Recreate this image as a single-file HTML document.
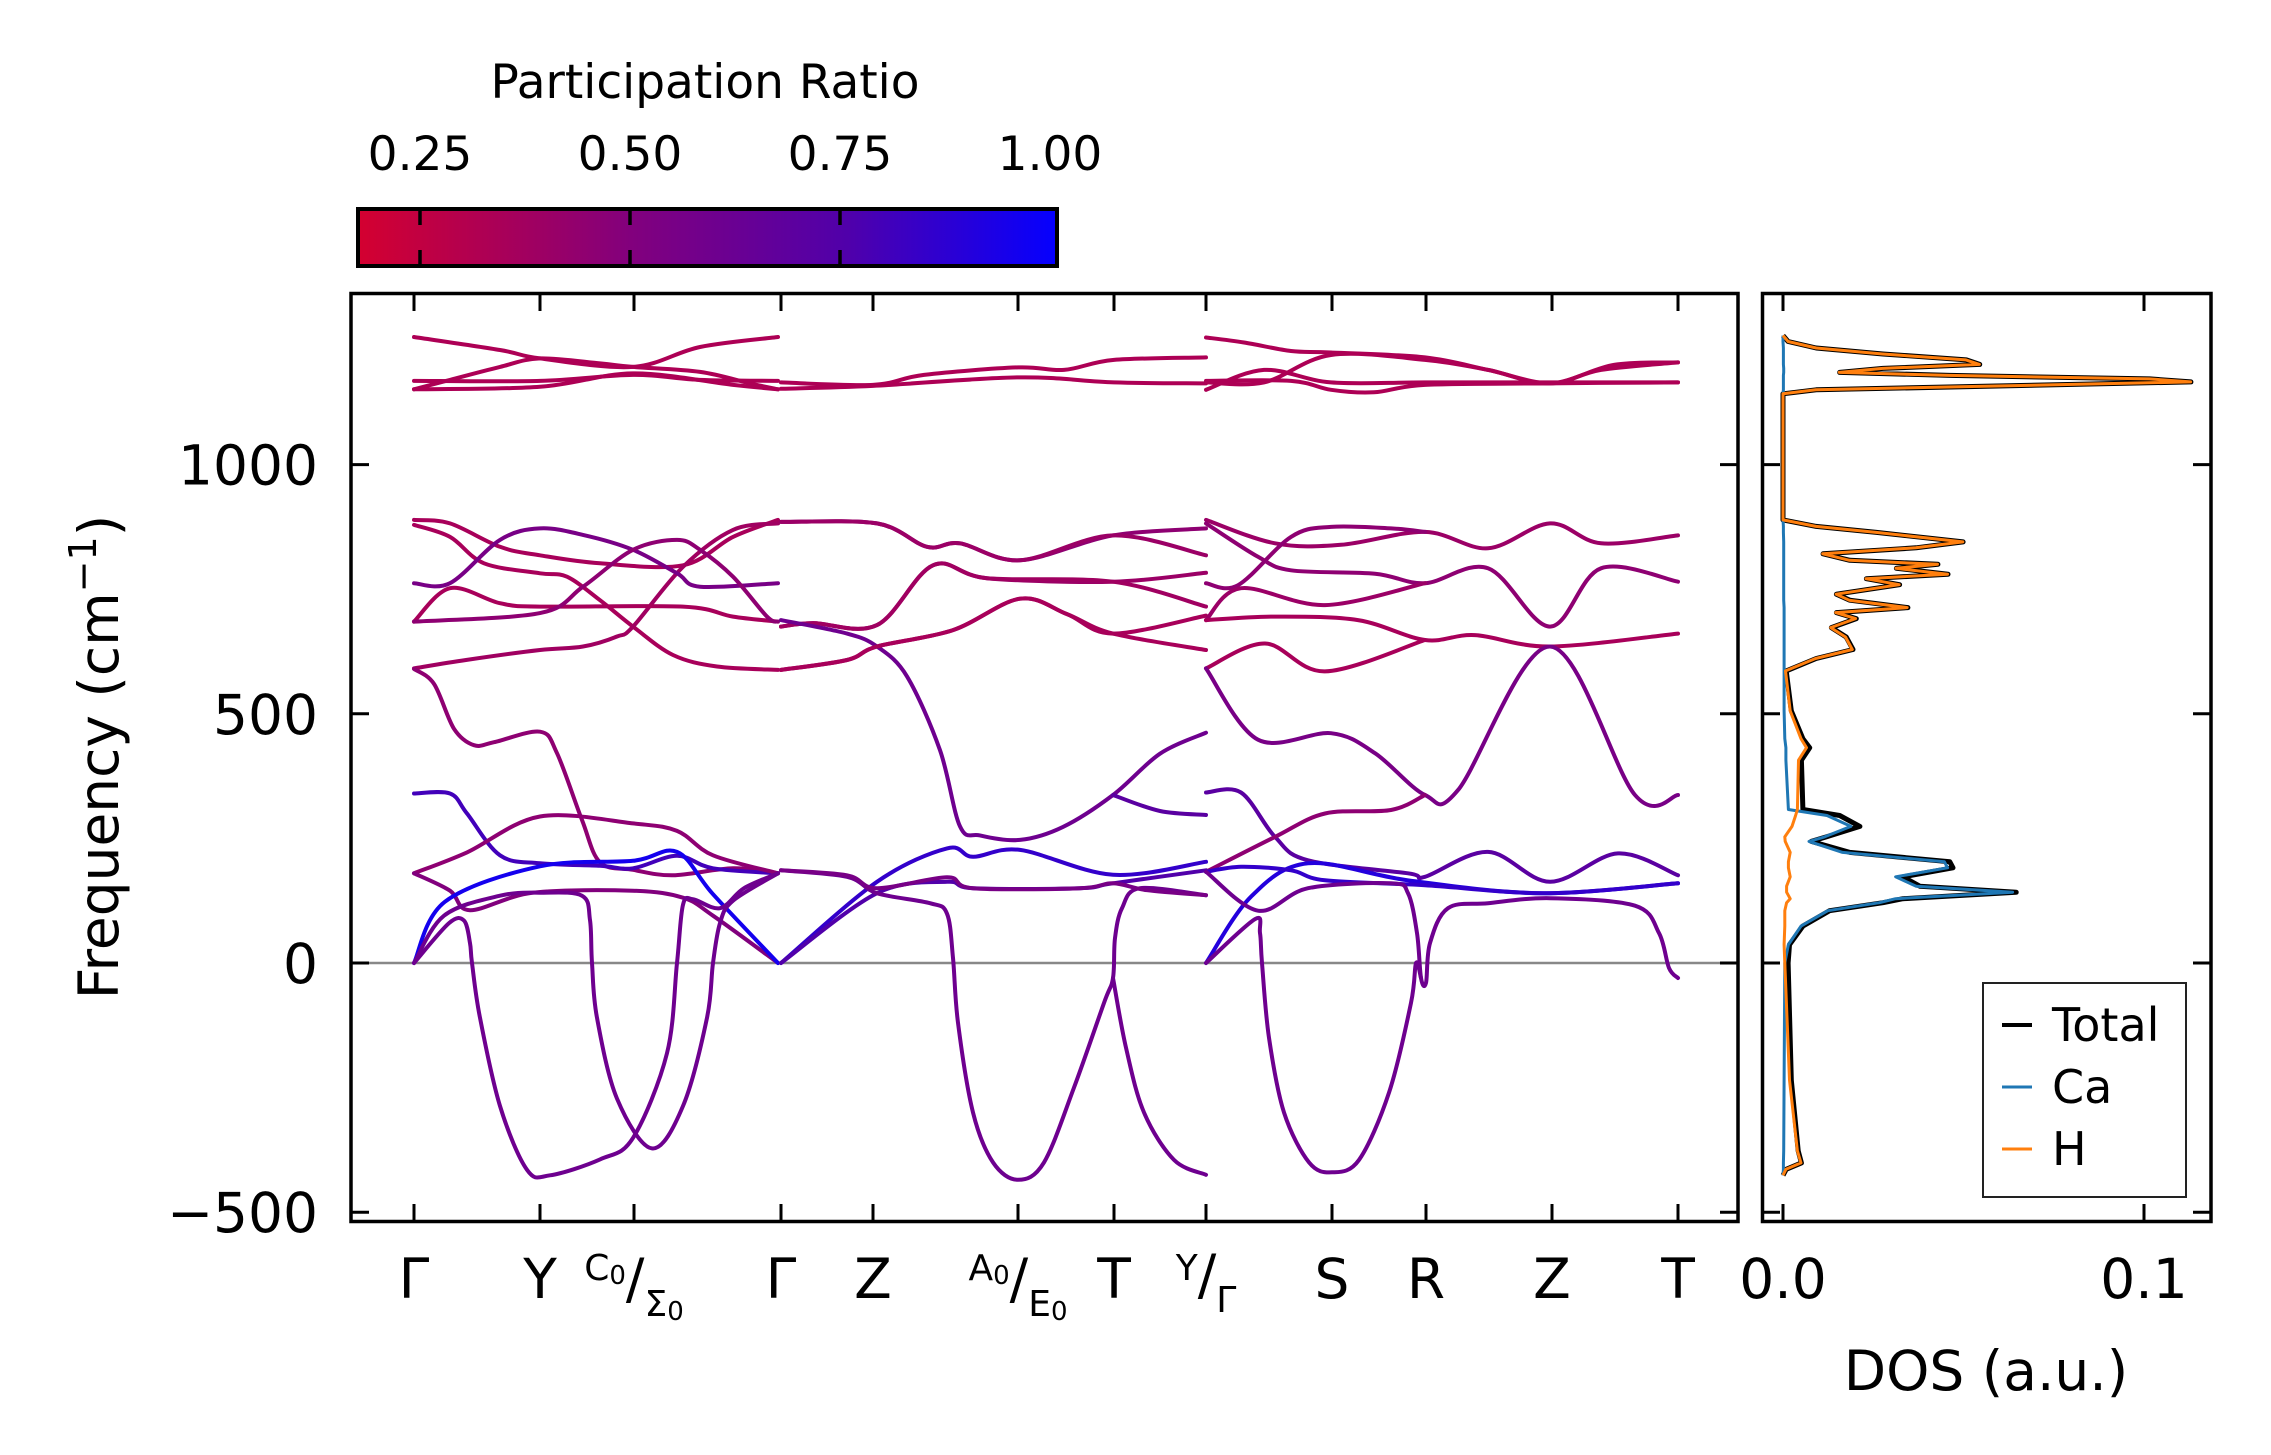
<!DOCTYPE html>
<html><head><meta charset="utf-8">
<style>
html,body{margin:0;padding:0;background:#fff;}
svg{display:block;font-family:"DejaVu Sans","Liberation Sans",sans-serif;}
</style></head>
<body>
<svg id="fig" width="2271" height="1455" viewBox="0 0 2271 1455" xmlns="http://www.w3.org/2000/svg">
  <defs>
    <linearGradient id="cmap" x1="0" x2="1" y1="0" y2="0">
      <stop offset="0" stop-color="rgb(212,0,48)"/>
      <stop offset="0.39" stop-color="rgb(130,0,125)"/>
      <stop offset="0.70" stop-color="rgb(80,0,170)"/>
      <stop offset="1" stop-color="rgb(5,0,255)"/>
    </linearGradient>
    <clipPath id="mainclip"><rect x="351" y="293" width="1387" height="929"/></clipPath>
    <clipPath id="dosclip"><rect x="1762" y="293" width="449" height="929"/></clipPath>
  </defs>
  <g id="colorbar">
    <text x="705" y="98" font-size="47" text-anchor="middle">Participation Ratio</text>
    <rect x="358" y="209" width="699" height="57" fill="url(#cmap)" stroke="#000" stroke-width="4"/>
    <g id="cbticks"></g>
  </g>
  <g id="main">
    <line x1="351" x2="1738" y1="963" y2="963" stroke="#888" stroke-width="2.5"/>
    <g id="bands" clip-path="url(#mainclip)"></g>
    <rect x="351" y="293.5" width="1387" height="928" fill="none" stroke="#000" stroke-width="3.5"/>
    <g id="mainticks"></g>
    <text transform="translate(118,757) rotate(-90)" font-size="55" text-anchor="middle">Frequency (cm<tspan font-size="38" dy="-22">−1</tspan><tspan dy="22">)</tspan></text>
  </g>
  <g id="dos">
    <g id="doslines" clip-path="url(#dosclip)"></g>
    <rect x="1762.5" y="293.5" width="448.5" height="928" fill="none" stroke="#000" stroke-width="3.5"/>
    <g id="dosticks"></g>
    <text x="1986" y="1390" font-size="55" text-anchor="middle">DOS (a.u.)</text>
    <g>
      <rect x="1983" y="983" width="203" height="214" fill="#fff" stroke="#222" stroke-width="2"/>
      <line x1="2002" x2="2032" y1="1025" y2="1025" stroke="#000" stroke-width="4"/>
      <text x="2052" y="1041" font-size="46">Total</text>
      <line x1="2002" x2="2032" y1="1087" y2="1087" stroke="#1f77b4" stroke-width="3"/>
      <text x="2052" y="1103" font-size="46">Ca</text>
      <line x1="2002" x2="2032" y1="1149" y2="1149" stroke="#ff7f0e" stroke-width="3"/>
      <text x="2052" y="1165" font-size="46">H</text>
    </g>
  </g>
</svg>
<script>
// ---------- data ----------
const kTicks = [0,126,220,367,459,604,700,792,918,1012,1138,1264];
const kLabels = ["Γ","Y","C0/Σ0","Γ","Z","A0/E0","T","Y/Γ","S","R","Z","T"];
const yTicks = [-500,0,500,1000];
const yTickLabels = ["−500","0","500","1000"];
const cbTicks = [0.25,0.5,0.75,1.0];
const cbTickLabels = ["0.25","0.50","0.75","1.00"];
const dosTicks = [0.0,0.1];
const dosTickLabels = ["0.0","0.1"];

// bands: [k, frequency cm^-1]
const bands = [
 [[0,1256],[86,1230],[126,1213],[219,1196],[286,1236],[364,1256]],
 [[0,1151],[36,1170],[86,1196],[126,1213],[186,1203],[219,1196],[286,1186],[336,1163],[364,1151]],
 [[0,1168],[126,1168],[219,1180],[286,1170],[364,1168]],
 [[0,1151],[126,1156],[219,1183],[319,1160],[364,1151]],
 [[0,889],[36,882],[86,835],[126,818],[186,802],[269,798],[319,855],[364,889]],
 [[0,879],[36,855],[70,802],[126,782],[153,775],[186,728],[219,675],[259,618],[303,595],[364,588]],
 [[0,591],[52,608],[126,628],[169,635],[203,655],[219,675],[269,795],[319,869],[364,882]],
 [[0,762],[36,762],[86,849],[126,872],[169,859],[219,829],[263,782],[286,755],[364,762]],
 [[0,685],[36,752],[86,722],[126,715],[269,715],[319,695],[364,685]],
 [[0,685],[126,702],[169,755],[219,829],[263,849],[286,829],[319,775],[353,695],[364,685]],
 [[0,590],[20,560],[40,470],[60,437],[80,443],[126,464],[143,421],[168,287],[186,202],[219,187],[259,176],[319,190],[364,180]],
 [[0,340],[36,340],[53,300],[86,216],[126,200],[186,195],[219,190],[263,215],[299,190],[364,180]],
 [[0,180],[53,222],[126,294],[219,280],[263,265],[299,216],[364,180]],
 [[0,180],[36,145],[56,106],[119,141],[219,145],[269,131],[299,95],[364,0]],
 [[0,0],[31,123],[126,194],[219,205],[263,223],[299,138],[364,0]],
 [[0,0],[35,80],[50,85],[56,40],[58,0],[66,-110],[86,-287],[113,-415],[136,-426],[186,-394],[219,-351],[253,-181],[263,0],[269,117],[279,128],[306,110],[330,150],[364,180]],
 [[0,0],[30,95],[86,135],[126,141],[168,135],[176,86],[178,0],[183,-110],[203,-272],[238,-372],[269,-287],[293,-110],[299,0],[306,80],[319,125],[364,180]],
 [[367,1165],[459,1160],[510,1180],[604,1195],[650,1190],[700,1210],[792,1215]],
 [[367,1152],[459,1158],[604,1175],[700,1165],[792,1163]],
 [[367,885],[463,882],[513,835],[546,842],[606,808],[699,858],[792,872]],
 [[367,885],[463,882],[513,835],[546,842],[606,808],[699,858],[792,818]],
 [[367,675],[399,682],[463,678],[519,798],[573,772],[699,765],[792,783]],
 [[367,675],[399,682],[463,678],[519,798],[573,772],[699,765],[792,715]],
 [[367,688],[433,661],[463,635],[493,575],[526,427],[546,274],[566,256],[606,247],[649,273],[699,337],[746,420],[792,462]],
 [[699,337],[746,305],[792,297]],
 [[367,588],[433,608],[463,635],[539,668],[606,731],[653,700],[699,661],[792,697]],
 [[367,588],[433,608],[463,635],[539,668],[606,731],[653,700],[699,661],[792,628]],
 [[367,0],[463,163],[533,230],[559,213],[606,227],[699,177],[792,203]],
 [[367,0],[463,140],[533,163],[559,150],[666,150],[699,160],[792,186]],
 [[367,186],[433,173],[463,140],[516,120],[533,99],[539,10],[544,-120],[559,-300],[579,-400],[604,-435],[630,-400],[660,-250],[690,-80],[699,-30],[701,50],[708,110],[726,150],[792,136]],
 [[367,186],[433,176],[463,150],[533,172],[559,150],[666,150],[699,160],[733,146],[792,136]],
 [[699,-30],[712,-170],[730,-300],[760,-395],[792,-425]],
 [[792,1255],[830,1245],[877,1228],[917,1225],[1011,1215],[1074,1190],[1136,1163],[1187,1190],[1264,1205]],
 [[792,1150],[850,1190],[917,1165],[1011,1165],[1136,1165],[1264,1165]],
 [[792,1168],[877,1168],[917,1150],[960,1145],[1011,1160],[1136,1163],[1264,1165]],
 [[792,1165],[850,1165],[917,1220],[1011,1210],[1074,1190],[1136,1163],[1200,1200],[1264,1205]],
 [[792,889],[861,842],[927,839],[1011,865],[1074,832],[1136,882],[1187,842],[1264,858]],
 [[792,882],[844,815],[877,788],[961,781],[1011,762],[1074,792],[1136,675],[1187,792],[1264,765]],
 [[792,762],[824,758],[877,855],[917,875],[977,872],[1011,865]],
 [[792,688],[827,752],[911,718],[1011,762]],
 [[792,688],[861,695],[944,688],[1011,648],[1061,658],[1136,635],[1264,661]],
 [[792,591],[851,641],[911,585],[1011,648]],
 [[792,591],[844,448],[917,461],[961,421],[1011,337],[1044,347],[1136,635],[1221,337],[1264,337]],
 [[792,342],[827,342],[861,253],[894,206],[994,180],[1011,173],[1074,223],[1136,163],[1204,220],[1264,176]],
 [[792,183],[861,253],[911,300],[977,307],[1011,337]],
 [[792,0],[837,133],[894,200],[994,166],[1127,140],[1264,160]],
 [[792,183],[827,193],[877,186],[911,166],[1011,156],[1136,140],[1264,160]],
 [[792,183],[844,105],[894,150],[977,160],[994,140],[1003,60],[1007,-30],[1012,-40],[1016,40],[1034,110],[1074,120],[1136,130],[1221,115],[1245,60],[1255,-10],[1264,-30]],
 [[792,0],[841,88],[846,60],[848,0],[855,-150],[870,-300],[895,-400],[918,-420],[945,-395],[975,-260],[997,-80],[1002,0],[1007,-30]]
];
const bandPR = [
 0.33,0.33,0.33,0.33,
 0.35,0.35,0.38,0.55,0.35,0.45,
 0.45,0.8,0.45,0.5,0.95,0.6,0.6,
 0.33,0.33,
 0.45,0.4,0.4,0.38,0.6,0.7,0.35,0.35,
 0.85,0.75,0.6,0.55,0.6,
 0.33,0.33,0.33,0.33,
 0.4,0.45,0.45,0.4,0.35,0.35,0.55,0.7,0.45,0.9,0.85,0.6,0.6
];

// DOS (values in units of 1e-3 a.u.)
const dosFreq = [1259,1247,1234,1222,1210,1201,1193,1185,1179,1172,1166,1160,1150,1142,889,876,864,845,833,821,808,800,792,780,771,759,740,728,713,703,691,673,654,629,611,586,506,450,432,407,308,296,274,253,244,222,203,191,173,154,142,129,121,105,74,37,0,-235,-377,-401,-414,-426];
const dosTotal = [0,1.4,9.2,27.7,50.8,54.5,27.7,15.7,46.2,101.6,113,73.9,9.2,0,0,9.2,25.9,49.9,36.9,11.1,18.5,42.9,31.4,45.7,23.1,32.3,14.8,18.5,34.6,14.8,20.3,13.4,17.5,19.4,9.2,0.9,2.3,5.5,7.4,5.1,5.5,15.7,21.3,12.0,7.8,18.5,46.2,47.1,33.2,37.9,64.6,33.2,27.7,12.9,5.5,1.8,1.4,2.3,4.2,5.1,0.9,0];
const dosH = [0,1.4,9.2,27.6,50.7,54.4,27.6,15.6,46.1,101.5,112.9,73.8,9.1,0,0,9.1,25.8,49.8,36.8,11.0,18.4,42.8,31.3,45.6,23.0,32.2,14.7,18.3,34.4,14.6,20.1,13.2,17.3,19.2,9.0,0.7,2.0,5.0,6.5,4.3,4.0,3.5,2.5,0.5,0.6,2.0,1.5,1.5,2.0,1.0,1.0,2.0,1.0,0.5,0.5,0.3,0.5,1.8,4.0,5.0,0.8,0];
const dosCa = [0,0,0.1,0.1,0.1,0.1,0.2,0.2,0.1,0.1,0.1,0.1,0.1,0,0,0.1,0.1,0.2,0.2,0.2,0.2,0.2,0.2,0.2,0.2,0.2,0.2,0.2,0.3,0.3,0.3,0.3,0.3,0.3,0.3,0.3,0.3,0.5,0.8,0.8,1.5,12.2,18.8,11.5,7.2,16.5,44.7,45.6,31.2,36.9,63.6,31.2,26.7,12.4,5.0,1.5,0.5,0.3,0.2,0.1,0.1,0];

// ---------- scales ----------
const NS = "http://www.w3.org/2000/svg";
function xOf(k){ return 414 + k; }
function yOf(f){ return 963 - f*0.4984; }
function dosX(v){ return 1783 + v*3610; }
function cbX(p){ return 420 + (p-0.25)*(210/0.25); }
const cstops = [[0,[212,0,48]],[0.39,[130,0,125]],[0.70,[80,0,170]],[1,[5,0,255]]];
function cmap(pr){
  let t = (pr-0.176)/(1-0.176); t = Math.max(0,Math.min(1,t));
  for(let i=0;i<cstops.length-1;i++){
    const [a,ca]=cstops[i],[b,cb]=cstops[i+1];
    if(t<=b){ const u=(t-a)/(b-a); return "rgb("+ca.map((c,j)=>Math.round(c+(cb[j]-c)*u)).join(",")+")"; }
  }
  return "rgb(5,0,255)";
}
function smoothPath(P){
  let d = "M"+P[0][0].toFixed(1)+","+P[0][1].toFixed(1);
  for(let i=0;i<P.length-1;i++){
    const p0=P[i-1]||P[i], p1=P[i], p2=P[i+1], p3=P[i+2]||P[i+1];
    const c1=[p1[0]+(p2[0]-p0[0])/6, p1[1]+(p2[1]-p0[1])/6];
    const c2=[p2[0]-(p3[0]-p1[0])/6, p2[1]-(p3[1]-p1[1])/6];
    d += " C"+c1[0].toFixed(1)+","+c1[1].toFixed(1)+" "+c2[0].toFixed(1)+","+c2[1].toFixed(1)+" "+p2[0].toFixed(1)+","+p2[1].toFixed(1);
  }
  return d;
}
function mk(tag, attrs, parent){
  const e=document.createElementNS(NS,tag);
  for(const k in attrs) e.setAttribute(k, attrs[k]);
  parent.appendChild(e); return e;
}

// ---------- bands ----------
const gB = document.getElementById("bands");
bands.forEach((b,i)=>{
  const P = b.map(p=>[xOf(p[0]), yOf(p[1])]);
  const el = mk("path",{d:smoothPath(P),fill:"none",stroke:cmap(bandPR[i]),"stroke-width":"4","stroke-linejoin":"round","stroke-linecap":"round"},gB);
  
  
});

// ---------- main ticks ----------
const gT = document.getElementById("mainticks");
kTicks.forEach((k,i)=>{
  const x = xOf(k);
  const t1 = mk("line",{x1:x,x2:x,y1:1222,y2:1204,stroke:"#000","stroke-width":"3"},gT);
  
  
  const t2 = mk("line",{x1:x,x2:x,y1:293,y2:311,stroke:"#000","stroke-width":"3"},gT);
  
  
  const lab = kLabels[i];
  const tx = mk("text",{x:x,y:1298,"font-size":"55","text-anchor":"middle"},gT);
  
  
  if(lab.indexOf("/")>=0){
    const parts = lab.split("/");
    const a = parts[0], b = parts[1];
    const s1 = mk("tspan",{"font-size":"36",dy:"-18"},tx); s1.textContent = a.replace("0","");
    const s1b = mk("tspan",{"font-size":"26",dy:"4"},tx); s1b.textContent = a.indexOf("0")>=0?"0":"";
    const s2 = mk("tspan",{"font-size":"55",dy:"14"},tx); s2.textContent = "/";
    const s3 = mk("tspan",{"font-size":"36",dy:"18"},tx); s3.textContent = b.replace("0","");
    const s3b = mk("tspan",{"font-size":"26",dy:"4"},tx); s3b.textContent = b.indexOf("0")>=0?"0":"";
  } else {
    tx.textContent = lab;
  }
});
yTicks.forEach((f,i)=>{
  const y = yOf(f);
  [[351,369],[1738,1720],[1762,1780],[2211,2193]].forEach((xx,j)=>{
    const l = mk("line",{x1:xx[0],x2:xx[1],y1:y,y2:y,stroke:"#000","stroke-width":"3"}, j<2?gT:document.getElementById("dosticks"));
    
    
  });
  const t = mk("text",{x:318,y:y+20,"font-size":"55","text-anchor":"end"},gT);
  
  
  t.textContent = yTickLabels[i];
});

// ---------- colorbar ticks ----------
const gC = document.getElementById("cbticks");
cbTicks.forEach((p,i)=>{
  const x = cbX(p);
  if(p<1){
    const a = mk("line",{x1:x,x2:x,y1:209,y2:225,stroke:"#000","stroke-width":"3.5"},gC);
    
    
    const b = mk("line",{x1:x,x2:x,y1:250,y2:266,stroke:"#000","stroke-width":"3.5"},gC);
    
    
  }
  const t = mk("text",{x:x,y:170,"font-size":"47","text-anchor":"middle"},gC);
  
  
  t.textContent = cbTickLabels[i];
});

// ---------- DOS ----------
const gD = document.getElementById("doslines");
function dosPath(vals){
  return dosFreq.map((f,i)=>(i?"L":"M")+dosX(vals[i]/1000).toFixed(1)+","+yOf(f).toFixed(1)).join(" ");
}
const pT = mk("path",{d:dosPath(dosTotal),fill:"none",stroke:"#000","stroke-width":"5","stroke-linejoin":"round"},gD);


const pC = mk("path",{d:dosPath(dosCa),fill:"none",stroke:"#1f77b4","stroke-width":"3","stroke-linejoin":"round"},gD);


const pH = mk("path",{d:dosPath(dosH),fill:"none",stroke:"#ff7f0e","stroke-width":"3","stroke-linejoin":"round"},gD);


const gDT = document.getElementById("dosticks");
dosTicks.forEach((v,i)=>{
  const x = dosX(v);
  const a = mk("line",{x1:x,x2:x,y1:1222,y2:1204,stroke:"#000","stroke-width":"3"},gDT);
  
  
  const b = mk("line",{x1:x,x2:x,y1:293,y2:311,stroke:"#000","stroke-width":"3"},gDT);
  
  
  const t = mk("text",{x:x,y:1298,"font-size":"55","text-anchor":"middle"},gDT);
  
  
  t.textContent = dosTickLabels[i];
});
</script>
</body></html>
